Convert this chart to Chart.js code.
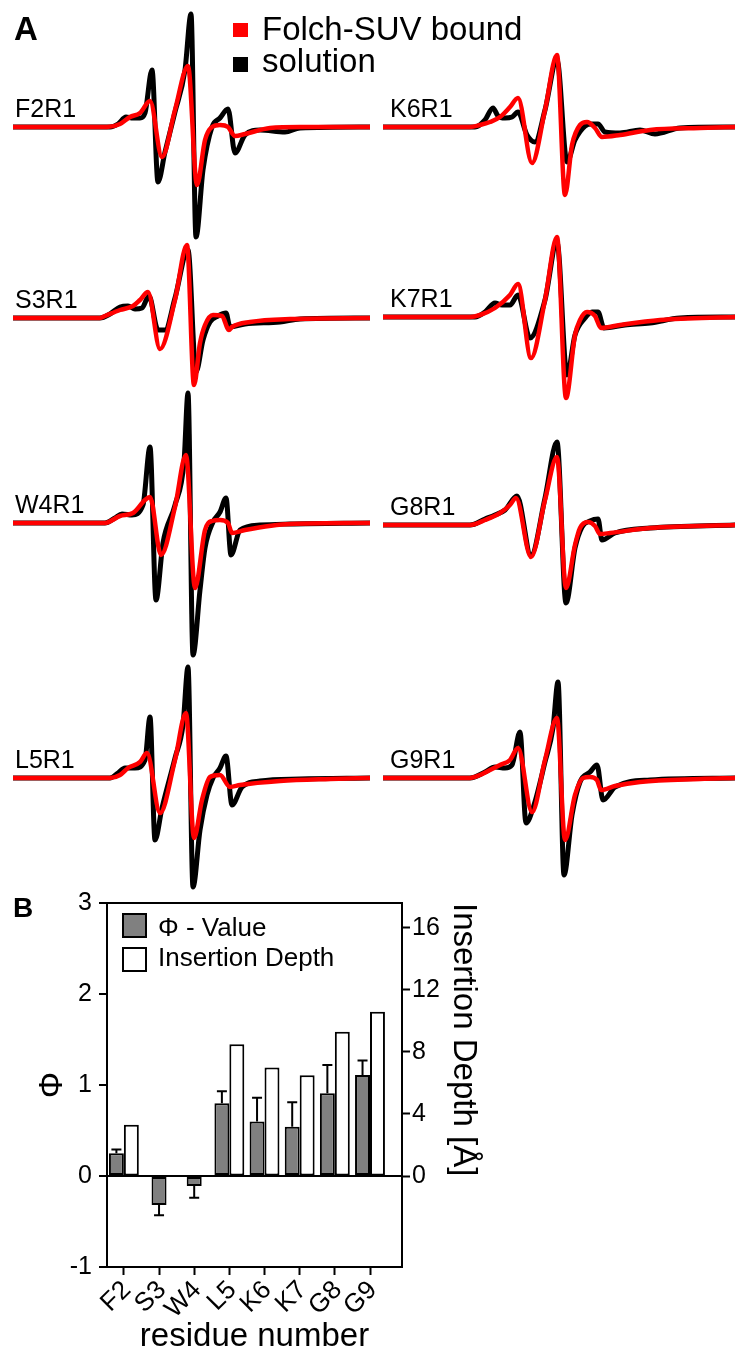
<!DOCTYPE html>
<html>
<head>
<meta charset="utf-8">
<script src="https://cdn.jsdelivr.net/npm/chart.js@4.4.1/dist/chart.umd.min.js"></script>
<style>
  html, body { margin: 0; padding: 0; background: #fff; overflow: hidden; }
  body { width: 735px; height: 1359px; position: relative; font-family: "Liberation Sans", Arial, sans-serif; color: #000; }
  canvas { position: absolute; }
  .txt { position: absolute; white-space: nowrap; line-height: 1; }
  .caja { position: absolute; box-sizing: border-box; }
</style>
</head>
<body>
<script>
// ===== Panel B: datos =====
const residuos = ["F2", "S3", "W4", "L5", "K6", "K7", "G8", "G9"];
const valorPhi = [0.25, -0.32, -0.11, 0.80, 0.60, 0.54, 0.91, 1.11];
const errorPhi = [0.04, 0.11, 0.13, 0.13, 0.26, 0.27, 0.31, 0.16];
const profundidad = [3.3, null, null, 8.5, 7.0, 6.5, 9.3, 10.6]; // Å
const ticksPhi = [-1, 0, 1, 2, 3];
const ticksProfundidad = [0, 4, 8, 12, 16];

// ===== Panel A: espectros EPR [campo, amplitud] (unidades arbitrarias) =====
const F2R1_solucion = [[0,0],[97,0],[105,3],[113,10],[120,9],[127,9],[132,14],[139,57],[145,-55],[152,-25],[162,15],[172,57],[178,113],[183,-110],[190,-43],[199,0],[207,9],[215,18],[222,-26],[232,-8],[247,-3],[272,-5],[287,-1],[357,0]];
const F2R1_folch    = [[0,0],[94,0],[107,3],[117,10],[127,14],[137,26],[149,-30],[162,17],[175,61],[184,-58],[192,-13],[199,0],[207,2],[215,0],[222,-9],[232,-7],[257,-1],[287,0],[357,0]];
const S3R1_solucion = [[0,0],[87,0],[97,4],[107,11],[115,12],[122,9],[129,10],[136,22],[145,-12],[152,-12],[162,20],[175,68],[183,-54],[190,-22],[197,-4],[205,2],[213,5],[217,-9],[232,-6],[267,-4],[287,-1],[357,0]];
const S3R1_folch    = [[0,0],[87,0],[92,2],[107,8],[120,12],[127,18],[135,26],[147,-31],[162,18],[174,73],[181,-67],[187,-25],[192,-7],[200,3],[209,2],[216,-12],[219,-9],[237,-4],[277,-1],[357,0]];
const W4R1_solucion = [[0,0],[92,0],[102,5],[109,9],[119,8],[130,18],[137,76],[143,-77],[150,-20],[162,18],[171,61],[175,130],[180,-132],[187,-67],[192,-25],[200,1],[207,11],[213,25],[218,-32],[227,-7],[247,-2],[277,-1],[357,0]];
const W4R1_folch    = [[0,0],[92,0],[107,7],[120,10],[132,23],[137,26],[148,-32],[162,16],[173,68],[182,-65],[192,-7],[199,2],[207,3],[215,0],[219,-10],[232,-7],[277,-1],[357,0]];
const L5R1_solucion = [[0,0],[97,0],[105,5],[112,10],[122,10],[132,18],[137,61],[142,-62],[149,-30],[162,20],[170,53],[175,111],[180,-109],[187,-52],[194,-17],[200,0],[207,10],[213,22],[219,-27],[229,-9],[247,-3],[287,-1],[357,0]];
const L5R1_folch    = [[0,0],[97,0],[107,3],[115,10],[127,16],[134,25],[147,-35],[162,18],[173,65],[181,-60],[189,-22],[197,1],[207,3],[217,-9],[227,-7],[267,-3],[317,-1],[357,0]];
const K6R1_solucion = [[0,0],[92,0],[102,7],[110,19],[115,11],[122,9],[129,10],[135,15],[144,-8],[152,-15],[162,17],[174,67],[184,-35],[192,-13],[202,1],[209,3],[215,3],[222,-5],[237,-6],[257,-3],[272,-7],[297,-1],[352,0]];
const K6R1_folch    = [[0,0],[87,0],[97,2],[107,5],[117,10],[127,20],[135,29],[149,-36],[162,17],[174,72],[182,-68],[189,-18],[197,2],[204,5],[212,-1],[219,-10],[237,-8],[267,-3],[317,-1],[352,0]];
const K7R1_solucion = [[0,0],[92,0],[102,5],[112,14],[119,12],[127,12],[135,22],[147,-21],[162,17],[174,75],[184,-58],[192,-18],[202,-1],[209,5],[215,5],[221,-11],[242,-8],[267,-6],[297,-1],[352,0]];
const K7R1_folch    = [[0,0],[87,0],[97,2],[112,9],[127,22],[135,33],[148,-41],[162,17],[174,80],[183,-81],[192,-18],[197,-3],[204,5],[212,1],[218,-11],[237,-8],[277,-3],[352,0]];
const G8R1_solucion = [[0,0],[87,0],[102,6],[112,10],[122,15],[134,29],[148,-30],[162,27],[174,83],[183,-78],[192,-23],[199,-2],[207,4],[215,6],[219,-15],[232,-8],[267,-3],[352,0]];
const G8R1_folch    = [[0,0],[87,0],[102,5],[117,12],[127,20],[133,27],[148,-32],[162,25],[174,68],[183,-63],[192,-20],[197,-3],[205,3],[212,-1],[217,-9],[227,-8],[267,-3],[352,0]];
const G9R1_solucion = [[0,0],[87,0],[102,6],[112,11],[122,10],[129,13],[137,46],[143,-45],[151,-27],[162,16],[170,50],[175,96],[181,-97],[189,-37],[197,-4],[207,6],[214,13],[220,-22],[232,-9],[267,-2],[352,0]];
const G9R1_folch    = [[0,0],[87,0],[97,3],[107,8],[117,13],[127,18],[135,30],[149,-34],[162,18],[174,60],[182,-62],[192,-17],[200,0],[207,1],[214,-2],[218,-12],[232,-8],[257,-4],[317,-1],[352,0]];

Chart.defaults.font.family = '"Liberation Sans", Arial, sans-serif';
Chart.defaults.color = "#000";

// Texto con la linea base en y
function texto(str, x, base, size, weight) {
    const d = document.createElement("div");
    d.className = "txt";
    d.textContent = str;
    d.style.fontSize = size + "px";
    d.style.fontWeight = weight || "normal";
    d.style.left = x + "px";
    d.style.top = (base - 0.8465 * size) + "px";
    document.body.appendChild(d);
}

function caja(x, y, w, h, fondo, borde) {
    const d = document.createElement("div");
    d.className = "caja";
    Object.assign(d.style, { left: x + "px", top: y + "px", width: w + "px", height: h + "px", background: fondo, border: borde || "none" });
    document.body.appendChild(d);
}

function nuevoCanvas(x, y, w, h) {
    const c = document.createElement("canvas");
    c.width = w; c.height = h;
    c.style.left = x + "px"; c.style.top = y + "px";
    document.body.appendChild(c);
    return c.getContext("2d");
}

// ===== Panel A =====
const columnas = [{ x: 13, ancho: 357, etiqueta: 15 }, { x: 383, ancho: 352, etiqueta: 390 }];
const espectros = [
    { nombre: "F2R1", col: 0, base: 127, folch: F2R1_folch, solucion: F2R1_solucion },
    { nombre: "S3R1", col: 0, base: 318, folch: S3R1_folch, solucion: S3R1_solucion },
    { nombre: "W4R1", col: 0, base: 523, folch: W4R1_folch, solucion: W4R1_solucion },
    { nombre: "L5R1", col: 0, base: 778, folch: L5R1_folch, solucion: L5R1_solucion },
    { nombre: "K6R1", col: 1, base: 127, folch: K6R1_folch, solucion: K6R1_solucion },
    { nombre: "K7R1", col: 1, base: 317, folch: K7R1_folch, solucion: K7R1_solucion },
    { nombre: "G8R1", col: 1, base: 525, folch: G8R1_folch, solucion: G8R1_solucion },
    { nombre: "G9R1", col: 1, base: 778, folch: G9R1_folch, solucion: G9R1_solucion }
];
const semiAlto = 140;

espectros.forEach(e => {
    const col = columnas[e.col];
    const ctx = nuevoCanvas(col.x, e.base - semiAlto, col.ancho, semiAlto * 2);
    new Chart(ctx, {
        type: "line",
        data: {
            datasets: [
                { label: "Folch-SUV bound", data: e.folch, borderColor: "#ff0000", borderWidth: 4.5 },
                { label: "solution", data: e.solucion, borderColor: "#000000", borderWidth: 5 }
            ]
        },
        options: {
            responsive: false,
            animation: false,
            layout: { padding: 0 },
            elements: {
                point: { radius: 0 },
                line: { cubicInterpolationMode: "monotone", borderJoinStyle: "round", borderCapStyle: "round", fill: false }
            },
            plugins: { legend: { display: false }, tooltip: { enabled: false } },
            scales: {
                x: { type: "linear", display: false, min: 0, max: col.ancho },
                y: { type: "linear", display: false, min: -semiAlto, max: semiAlto }
            }
        }
    });
});

// ===== Panel B =====
const cajaGrafico = {
    id: "cajaGrafico",
    afterDraw(chart) {
        const { ctx, chartArea: a } = chart;
        ctx.save();
        ctx.strokeStyle = "#000";
        ctx.lineWidth = 2;
        ctx.strokeRect(a.left, a.top, a.right - a.left, a.bottom - a.top);
        ctx.restore();
    }
};

const barrasError = {
    id: "barrasError",
    afterDatasetsDraw(chart) {
        const meta = chart.getDatasetMeta(0);
        const escala = chart.scales.y;
        const ctx = chart.ctx;
        ctx.save();
        ctx.strokeStyle = "#000";
        ctx.lineWidth = 2;
        meta.data.forEach((barra, i) => {
            const v = valorPhi[i];
            const extremo = v >= 0 ? v + errorPhi[i] : v - errorPhi[i];
            const y0 = escala.getPixelForValue(v);
            const y1 = escala.getPixelForValue(extremo);
            ctx.beginPath();
            ctx.moveTo(barra.x, y0);
            ctx.lineTo(barra.x, y1);
            ctx.moveTo(barra.x - 5, y1);
            ctx.lineTo(barra.x + 5, y1);
            ctx.stroke();
        });
        ctx.restore();
    }
};

const ctxB = nuevoCanvas(0, 880, 520, 479);
new Chart(ctxB, {
    type: "bar",
    data: {
        datasets: [
            {
                label: "Φ - Value",
                data: residuos.map((r, i) => ({ x: i + 1, y: valorPhi[i] })),
                yAxisID: "y",
                backgroundColor: "#808080",
                borderColor: "#000",
                borderWidth: 2
            },
            {
                label: "Insertion Depth",
                data: residuos.map((r, i) => ({ x: i + 1, y: profundidad[i] })),
                yAxisID: "y2",
                backgroundColor: "#ffffff",
                borderColor: "#000",
                borderWidth: 2
            }
        ]
    },
    options: {
        responsive: false,
        animation: false,
        layout: { padding: { top: 23, left: 0, right: 0, bottom: 0 } },
        datasets: { bar: { categoryPercentage: 0.85, barPercentage: 1, maxBarThickness: 15, skipNull: true, borderSkipped: false } },
        plugins: { legend: { display: false }, tooltip: { enabled: false } },
        scales: {
            x: {
                type: "linear",
                offset: false,
                min: 0.52,
                max: 8.91,
                afterBuildTicks: s => { s.ticks = residuos.map((r, i) => ({ value: i + 1 })); },
                afterFit: s => { s.height = 92; },
                border: { display: false },
                grid: { offset: false, drawOnChartArea: false, tickLength: 8, tickWidth: 2, color: "#000" },
                ticks: { autoSkip: false, minRotation: 45, maxRotation: 45, padding: 0, labelOffset: 3, font: { size: 26 }, color: "#000",
                         callback: v => residuos[v - 1] },
                title: { display: true, text: "residue number", font: { size: 33 }, color: "#000", padding: { top: 0, bottom: 2 } }
            },
            y: {
                position: "left",
                min: -1,
                max: 3,
                afterBuildTicks: s => { s.ticks = ticksPhi.map(v => ({ value: v })); },
                afterFit: s => { s.width = 107; },
                border: { display: false },
                grid: { color: c => (c.tick && c.tick.value === 0 ? "#000" : "rgba(0,0,0,0)"), lineWidth: 2,
                        tickColor: "#000", tickLength: 8, tickWidth: 2 },
                ticks: { font: { size: 25 }, color: "#000", padding: 7, callback: v => String(v) },
                title: { display: true, text: "Φ", font: { size: 33 }, color: "#000", padding: { top: 33, bottom: 0 } }
            },
            y2: {
                position: "right",
                min: -5.87,
                max: 17.61,
                afterBuildTicks: s => { s.ticks = ticksProfundidad.map(v => ({ value: v })); },
                afterFit: s => { s.width = 118; },
                border: { display: false },
                grid: { drawOnChartArea: false, tickLength: 8, tickWidth: 2, color: "#000" },
                ticks: { font: { size: 25 }, color: "#000", padding: 2, callback: v => String(v) },
                title: { display: true, text: "Insertion Depth [Å]", align: "end", font: { size: 33 }, color: "#000", padding: { top: 37, bottom: 0 } }
            }
        }
    },
    plugins: [cajaGrafico, barrasError]
});

// ===== Textos y leyendas =====
texto("A", 14, 40, 33, "bold");
texto("B", 13, 918, 28, "bold");

caja(233, 23, 15, 14, "#ff0000");
caja(233, 57, 15, 15, "#000000");
texto("Folch-SUV bound", 262, 40, 33);
texto("solution", 262, 72, 33);

espectros.forEach(e => texto(e.nombre, columnas[e.col].etiqueta, e.base - 10, 25));

// leyenda del panel B
caja(122, 913, 25, 25, "#808080", "2px solid #000");
caja(122, 947, 25, 25, "#ffffff", "2px solid #000");
texto("Φ - Value", 158, 936, 26);
texto("Insertion Depth", 158, 966, 26);
</script>
</body>
</html>
